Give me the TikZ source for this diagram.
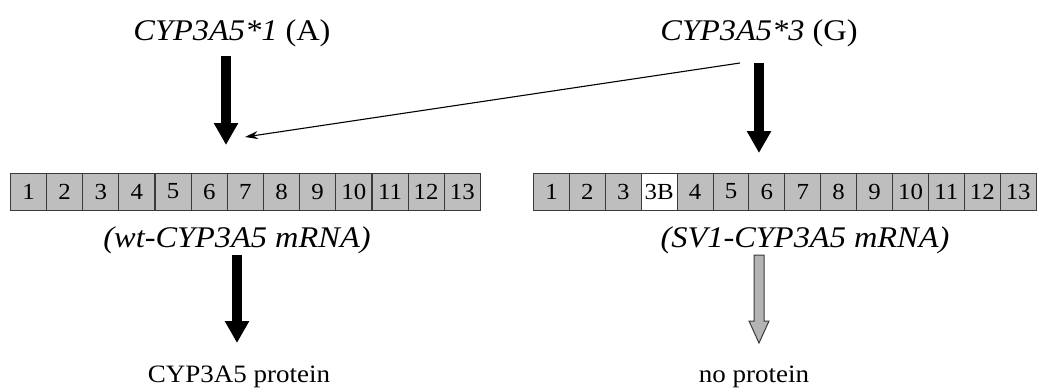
\documentclass[tikz,border=0pt]{standalone}
\usepackage{fontspec}
\setmainfont[FakeStretch=1.08]{Liberation Serif}
\usetikzlibrary{arrows.meta,calc}
\definecolor{exonfill}{HTML}{BEBEBE}
\definecolor{exonline}{HTML}{3A3A3A}
\definecolor{greyarrow}{HTML}{B4B4B4}
\tikzset{
  title/.style={inner sep=0pt, font=\fontsize{30}{32}\selectfont},
  label/.style={inner sep=0pt, font=\fontsize{30}{32}\selectfont\itshape},
  result/.style={inner sep=0pt, font=\fontsize{25}{27}\selectfont},
  exon/.style={draw=exonline, fill=exonfill, line width=1pt, minimum width=36pt,
    minimum height=37pt, inner sep=0pt, anchor=west, font=\fontsize{23}{24}\selectfont},
  newexon/.style={exon, fill=white},
  bigarrow/.style={line width=10pt, -{Triangle[width=23pt,length=22pt]}},
  thinarrow/.style={line width=1.1pt, -{Stealth[length=13pt,width=8pt]}},
}
\begin{document}
\begin{tikzpicture}[x=1pt,y=-1pt]
\useasboundingbox (0,0) rectangle (1037,391);

% allele labels
\node[title] (a1) at (232,33) {\textit{CYP3A5*1} (A)};
\node[title] (a3) at (759,33) {\textit{CYP3A5*3} (G)};

% wild-type transcript: exons 1-13
\foreach \i in {1,...,13}
  \node[exon] (w\i) at ({10+36.15*(\i-1)},191.5) {\i};

% splice-variant transcript: exons 1-3, 3B, 4-13
\foreach \lab [count=\k] in {1,2,3,3B,4,5,6,7,8,9,10,11,12,13}
  \node[exon] (s\k) at ({533+35.9*(\k-1)},191.5) {\lab};
\node[newexon] at (s4.west) {3B};

\node[label] (wl) at (237,240) {(wt-CYP3A5 mRNA)};
\node[label] (sl) at (805,240) {(SV1-CYP3A5 mRNA)};

\node[result] (p1) at (239,377) {CYP3A5 protein};
\node[result] (p0) at (754,377) {no protein};

% arrow end points
\coordinate (a1s) at (226,56);
\coordinate (a1e) at (226,145);
\coordinate (a3s) at (759,63);
\coordinate (a3e) at (759,153);
\coordinate (sk) at (740,63);
\coordinate (ske) at (245,137);
\coordinate (wls) at (237,255);
\coordinate (wle) at (237,343);
\coordinate (sls) at (759,255);
\coordinate (sle) at (759,343);

% transcription / translation
\draw[bigarrow] (a1s) -- (a1e);
\draw[bigarrow] (a3s) -- (a3e);
\draw[thinarrow] (sk) -- (ske);
\draw[bigarrow] (wls) -- (wle);

% hollow grey arrow: no translation
\draw[draw=exonline, fill=greyarrow, line width=1pt, line join=miter]
  ($(sls)+(-5,0)$) -- ($(sls)+(5,0)$) -- ($(sle)+(5,-22)$) -- ($(sle)+(10,-22)$)
  -- (sle) -- ($(sle)+(-10,-22)$) -- ($(sle)+(-5,-22)$) -- cycle;
\end{tikzpicture}
\end{document}
